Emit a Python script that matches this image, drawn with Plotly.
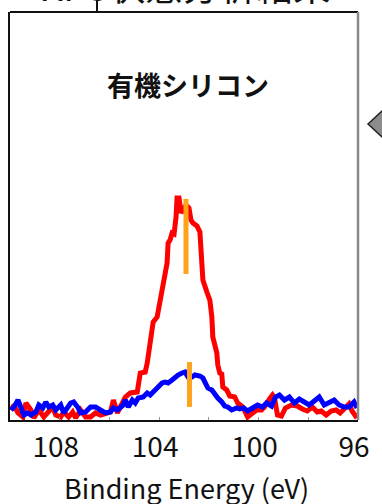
import plotly.graph_objects as go

# Si 2p spectra, binding energy (eV) vs. intensity (arb. units)
red_be = [109.96, 109.84, 109.68, 109.48, 109.36, 109.16, 109.04, 108.84, 108.64, 108.48,
          108.28, 108.16, 107.96, 107.84, 107.64, 107.48, 107.36, 107.16, 106.96, 106.76,
          106.56, 106.36, 106.16, 105.96, 105.84, 105.68, 105.56, 105.36, 105.16, 104.88,
          104.76, 104.56, 104.48, 104.36, 104.24, 104.08, 103.96, 103.84, 103.76, 103.68,
          103.64, 103.56, 103.48, 103.40, 103.32, 103.28, 103.20, 103.12, 103.04, 102.92,
          102.80, 102.72, 102.64, 102.48, 102.36, 102.28, 102.24, 102.08, 101.96, 101.88,
          101.84, 101.68, 101.64, 101.56, 101.48, 101.44, 101.28, 101.16, 100.96, 100.84,
          100.64, 100.44, 100.28, 100.08, 99.88, 99.76, 99.56, 99.44, 99.36, 99.24,
          99.08, 98.92, 98.68, 98.44, 98.24, 98.04, 97.84, 97.64, 97.48, 97.28,
          97.08, 96.88, 96.72, 96.52, 96.36, 96.24, 96.04]
red_int = [2.45, 3.68, 1.72, 0.74, 4.17, 2.45, 0.49, 2.45, 0.74, 1.96,
           3.19, 1.23, 0.74, 1.96, 0.74, 1.96, 0.49, 2.45, 0.74, 0.74,
           1.72, 1.23, 1.72, 1.96, 4.90, 1.72, 3.19, 5.64, 6.62, 6.86,
           11.52, 11.76, 13.97, 18.87, 24.02, 25.25, 29.41, 33.58, 34.80, 38.48,
           43.38, 44.12, 45.83, 45.59, 49.75, 54.41, 54.41, 50.74, 51.47, 52.70,
           51.96, 49.02, 48.28, 47.55, 46.08, 39.95, 34.31, 31.37, 29.41, 25.25,
           20.34, 16.42, 13.48, 11.52, 11.27, 8.09, 7.35, 5.88, 5.64, 4.17,
           3.19, 0.74, 1.47, 2.45, 2.45, 3.19, 5.15, 6.13, 5.39, 1.23,
           0.98, 2.94, 3.68, 3.43, 2.70, 2.21, 3.19, 1.96, 2.21, 1.23,
           2.21, 2.45, 1.72, 2.94, 3.92, 2.21, 0.49]

blue_be = [109.96, 109.84, 109.68, 109.56, 109.44, 109.28, 109.16, 108.96, 108.84, 108.68,
           108.56, 108.44, 108.28, 108.16, 107.96, 107.84, 107.68, 107.56, 107.44, 107.28,
           107.16, 106.96, 106.76, 106.56, 106.36, 106.16, 105.96, 105.84, 105.68, 105.56,
           105.44, 105.36, 105.24, 105.08, 104.96, 104.84, 104.64, 104.48, 104.36, 104.16,
           104.04, 103.88, 103.76, 103.64, 103.48, 103.36, 103.24, 103.08, 102.96, 102.84,
           102.68, 102.56, 102.36, 102.24, 102.16, 102.04, 101.88, 101.76, 101.64, 101.48,
           101.36, 101.24, 101.08, 100.88, 100.76, 100.60, 100.44, 100.24, 100.04, 99.84,
           99.68, 99.48, 99.32, 99.16, 98.96, 98.76, 98.56, 98.36, 98.16, 97.96,
           97.76, 97.56, 97.36, 97.16, 96.96, 96.76, 96.56, 96.36, 96.16, 96.04]
blue_int = [2.45, 3.19, 4.90, 3.19, 1.23, 1.72, 1.23, 1.96, 3.68, 2.94,
            4.41, 3.19, 3.68, 2.45, 3.68, 1.72, 2.94, 4.17, 4.41, 3.19,
            1.72, 1.96, 3.19, 3.19, 2.45, 1.72, 1.96, 2.94, 2.45, 3.19,
            3.68, 4.90, 3.19, 4.90, 4.17, 5.39, 5.64, 6.62, 6.13, 7.35,
            8.09, 9.07, 9.31, 9.07, 9.80, 10.54, 11.03, 11.52, 11.76, 10.54,
            10.54, 11.03, 10.78, 10.29, 9.07, 7.84, 7.35, 6.13, 5.39, 4.41,
            3.43, 3.19, 2.45, 2.94, 2.70, 2.94, 2.21, 2.94, 3.68, 3.19,
            4.17, 3.43, 5.64, 6.13, 4.90, 5.64, 4.17, 5.15, 4.41, 3.68,
            4.66, 5.64, 3.68, 4.17, 4.90, 3.68, 3.19, 3.19, 4.41, 2.94]

# Peak-position markers (x, y_low, y_high)
marker_red = (102.92, 35.8, 54.2)
marker_blue = (102.78, 3.2, 14.2)

x_ticks = [108, 104, 100, 96]
panel_label = "有機シリコン"
x_title = "Binding Energy (eV)"
header = "XPS状態分析結果"

LATIN = "Noto Sans CJK JP, Roboto, sans-serif"

fig = go.Figure()
fig.add_trace(go.Scatter(x=red_be, y=red_int, mode="lines",
                         line=dict(color="#FF0000", width=5), hoverinfo="skip"))
fig.add_trace(go.Scatter(x=blue_be, y=blue_int, mode="lines",
                         line=dict(color="#0000FF", width=5), hoverinfo="skip"))
for mx, y0, y1 in (marker_red, marker_blue):
    fig.add_trace(go.Scatter(x=[mx, mx], y=[y0, y1], mode="lines",
                             line=dict(color="#FFA31A", width=5), hoverinfo="skip"))

L, R, T, B = 10, 24, 12, 84
PW, PH = 382 - L - R, 504 - T - B


def px(xp):
    return (xp - L) / PW


def py(yp):
    return (504 - B - yp) / PH


fig.update_layout(
    width=382, height=504,
    margin=dict(l=L, r=R, t=T, b=B, pad=0),
    paper_bgcolor="white", plot_bgcolor="white",
    showlegend=False,
    font=dict(family=LATIN, color="#111"),
    xaxis=dict(range=[110, 96], autorange=False, tickvals=x_ticks,
               ticks="inside", ticklen=3, tickwidth=1, tickcolor="#999",
               minor=dict(dtick=2, tick0=96, ticks="inside", ticklen=3, tickcolor="#999"),
               showgrid=False, zeroline=False,
               showline=True, linecolor="#111", linewidth=2,
               tickfont=dict(family=LATIN, size=28, color="#111"), ticklabelshift=4,
               ticklabelstandoff=1),
    yaxis=dict(range=[0, 100], autorange=False, showticklabels=False, ticks="",
               showgrid=False, zeroline=False,
               showline=True, linecolor="#111", linewidth=2),
    shapes=[
        dict(type="line", xref="paper", yref="paper", x0=0, x1=1, y0=1, y1=1,
             line=dict(color="#111", width=2)),
        dict(type="line", xref="paper", yref="paper", x0=1, x1=1, y0=0, y1=1,
             line=dict(color="#8a8a8a", width=2.5)),
        dict(type="line", xref="paper", yref="paper", x0=px(97), x1=px(97),
             y0=1, y1=py(-2), line=dict(color="#111", width=2)),
        dict(type="path", xref="paper", yref="paper",
             path=f"M {px(368)} {py(124)} L {px(395)} {py(99)} L {px(395)} {py(149)} Z",
             fillcolor="#8c8c8c", line=dict(color="#222", width=1.5)),
    ],
    annotations=[
        dict(text=f"<b>{panel_label}</b>", xref="paper", yref="paper",
             x=px(188), y=py(84), xanchor="center", yanchor="middle", showarrow=False,
             font=dict(family="Noto Sans CJK JP", size=27, color="#111")),
        dict(text=x_title, xref="paper", yref="paper",
             x=px(186), y=py(487), xanchor="center", yanchor="middle", showarrow=False,
             font=dict(family=LATIN, size=27, color="#111")),
        dict(text=header, xref="paper", yref="paper",
             x=px(186), y=py(-15), xanchor="center", yanchor="middle", showarrow=False,
             font=dict(family="Noto Sans CJK JP", size=37, color="#111")),
    ],
)

fig.write_html("out.html")
